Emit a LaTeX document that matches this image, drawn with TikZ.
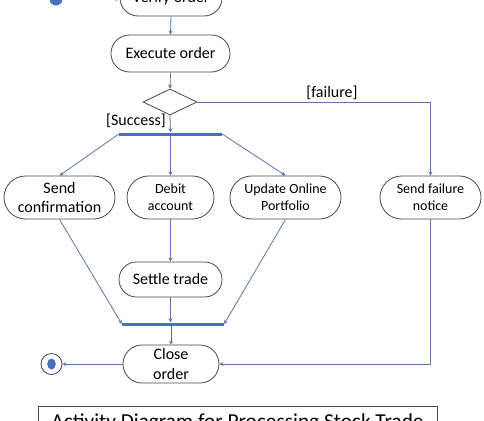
\documentclass[tikz,border=0pt]{standalone}
\usepackage{fontspec}
\setmainfont{Carlito}
\usetikzlibrary{arrows.meta, shapes.geometric, shapes.misc, calc}
\definecolor{FlowBlue}{RGB}{ 88, 119, 176 }
\definecolor{BarBlue}{HTML}{4A72B8}
\definecolor{BGray}{HTML}{44474C}
\NewDocumentCommand{\FinalDot}{O{(0,0)}}{
    \begin{scope}[shift={#1}]
    \fill[BarBlue] (0,0) ellipse [x radius=4.3pt, y radius=5.5pt];
    \end{scope}
}

\begin{document}
\begin{tikzpicture}[x=1pt, y=-1pt,
    activity/.style={draw=BGray, line width=0.8pt, rounded rectangle, align=center,
        inner sep=0pt, font=\fontsize{16}{19.5}\selectfont},
    smalltext/.style={font=\fontsize{14}{17}\selectfont},
    bar/.style={fill=BarBlue, inner sep=0pt, minimum height=3pt},
    flow/.style={FlowBlue, line width=0.8pt, -{Stealth[length=4pt, width=4pt]}},
    guard/.style={font=\fontsize{16}{19}\selectfont, inner sep=0pt}]
\useasboundingbox (0,0) rectangle (484,420);

\node[circle, fill=BarBlue, minimum size=13pt, inner sep=0pt] (start) at (56,-1) {};
\node[activity, minimum width=102pt, minimum height=36pt] (verify) at (171,-2) {Verify order};
\node[activity, minimum width=119pt, minimum height=37pt] (execute) at (170.5,53.5) {Execute order};
\node[diamond, draw=BGray, line width=0.8pt, minimum width=54pt, minimum height=26pt,
    inner sep=0pt] (decide) at (170,102) {};
\node[bar, minimum width=103pt] (fork) at (170.5,134) {};

\node[activity, minimum width=111pt, minimum height=43pt] (sendconf) at (59.5,197.5) {Send\\confirmation};
\node[activity, smalltext, minimum width=87pt, minimum height=43pt] (debit) at (170.5,197.5) {Debit\\account};
\node[activity, smalltext, minimum width=111pt, minimum height=43pt] (update) at (285.5,197.5) {Update Online\\Portfolio};
\node[activity, smalltext, minimum width=101pt, minimum height=43pt] (failnote) at (430.5,197.5) {Send failure\\notice};
\node[activity, minimum width=103pt, minimum height=35pt] (settle) at (170.5,279.5) {Settle trade};

\node[bar, minimum width=102pt] (join) at (173,324) {};
\node[activity, minimum width=96pt, minimum height=38pt] (close) at (171,364) {Close\\order};
\node[circle, draw=BGray, line width=0.8pt, minimum size=21pt, inner sep=0pt] (finish) at (51.5,364) {};
\FinalDot[(finish)]

\node[guard, anchor=east] (success) at (166,121) {[Success]};
\node[guard] (failure) at (332,93) {[failure]};

\node[draw=BGray, line width=0.8pt, minimum width=399pt, minimum height=34pt, anchor=north,
    inner sep=0pt, font=\fontsize{21.3}{25}\selectfont] (title) at (237.5,406)
    {Activity Diagram for Processing Stock Trade};

% main flow
\draw[flow] (start) -- (start -| verify.west);
\draw[flow] (verify.south) -- (execute.north);
\draw[flow] (execute.south) -- (decide.north);
\draw[flow] (decide.south) -- (fork.north);
\draw[flow] (decide.east) -- (decide.east -| failnote) -- (failnote.north);

% fork
\draw[flow] (fork.west) -- (sendconf.north);
\draw[flow] (fork.south) -- (debit.north);
\draw[flow] (fork.east) -- (update.north);
\draw[flow] (debit.south) -- (settle.north);

% join
\draw[flow] (sendconf.south) -- (join.west);
\draw[flow] (settle.south) -- (settle.south |- join.north);
\draw[flow] (update.south) -- (join.east);
\draw[flow] (join.south -| close.north) -- (close.north);
\draw[flow] (failnote.south) -- (failnote.south |- close.east) -- (close.east);
\draw[flow] (close.west) -- (finish.east);

\end{tikzpicture}
\end{document}
